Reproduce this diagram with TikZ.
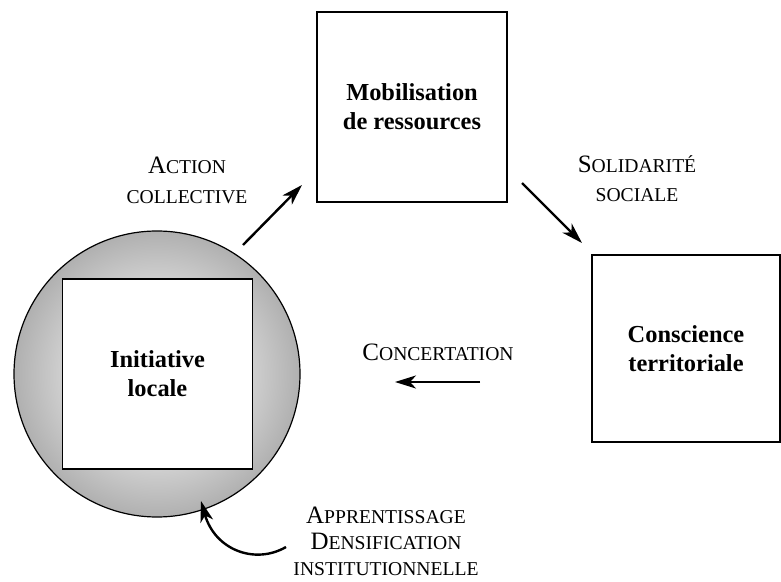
\documentclass[tikz,border=0pt]{standalone}
\usepackage{fontspec}
\setmainfont{Liberation Serif}
\usetikzlibrary{arrows.meta,positioning,calc}
\newcommand{\grand}[1]{{\fontsize{12.5}{15}\selectfont #1}}
\newcommand{\petit}[1]{{\fontsize{9.8}{15}\selectfont #1}}
\pgfdeclareradialshading{anneau}{\pgfpoint{0bp}{0bp}}{color(0bp)=(gray!28); color(16bp)=(gray!36); color(25bp)=(gray!62); color(50bp)=(gray!62)}

\begin{document}
\begin{tikzpicture}[x=0.5pt,y=-0.5pt,
    boite/.style={draw,line width=0.6pt,fill=white,minimum width=95pt,minimum height=95pt,align=center,font=\fontsize{12.2}{14.5}\selectfont\bfseries},
    etiq/.style={align=center,font=\fontsize{12.5}{15}\selectfont},
    fleche/.style={-{Stealth[length=10.5pt,width=6.5pt,inset=3pt]},line width=1.2pt}]
    \useasboundingbox (0,0) rectangle (781,582);
    % Boites
    \node[circle,draw,line width=0.6pt,shading=anneau,minimum size=143pt] (anneau) at (157,374) {};
    \node[boite] (init) at (157.5,374) {Initiative\\locale};
    \node[boite] (mob) at (412,107) {Mobilisation\\de ressources};
    \node[boite,minimum width=94pt,minimum height=93.5pt] (consc) at (686,348.5) {Conscience\\territoriale};
    % Etiquettes
    \node[etiq] (lact) at (187,180) {\grand{A}\petit{CTION}\\\petit{COLLECTIVE}};
    \node[etiq,font=\fontsize{12.5}{14.5}\selectfont] (lsol) at (637,178.5) {\grand{S}\petit{OLIDARITÉ}\\\petit{SOCIALE}};
    \node[etiq] (lconc) at (438,352) {\grand{C}\petit{ONCERTATION}};
    \node[etiq,font=\fontsize{12.5}{13}\selectfont] (lapp) at (386,541) {\grand{A}\petit{PPRENTISSAGE}\\\grand{D}\petit{ENSIFICATION}\\\petit{INSTITUTIONNELLE}};
    % Fleches
    \coordinate (a1) at (243,245); \coordinate (a2) at (302,185);
    \coordinate (s1) at (522,183); \coordinate (s2) at (582,243);
    \coordinate (c1) at (480,382); \coordinate (c2) at (395,382);
    \coordinate (d1) at (286,547); \coordinate (d2) at (201,501);
    \draw[fleche] (a1) -- (a2);
    \draw[fleche] (s1) -- (s2);
    \draw[fleche] (c1) -- (c2);
    \draw[fleche] (d1) .. controls (255,565) and (215,550) .. (d2);
\end{tikzpicture}
\end{document}
